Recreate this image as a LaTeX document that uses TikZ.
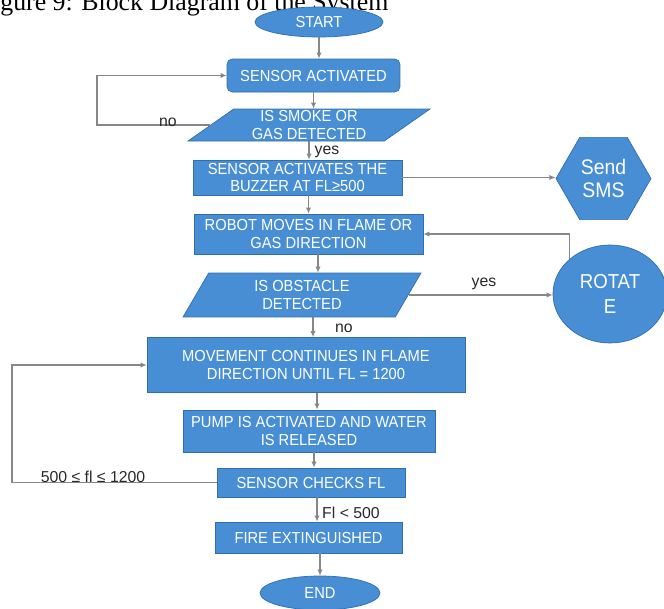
\documentclass[tikz,border=0pt]{standalone}
\usepackage{fontspec}
\setmainfont{Liberation Sans}
\newfontfamily\boxfont[FakeStretch=0.92]{Liberation Sans}
\newfontfamily\capfont{Liberation Serif}
\usetikzlibrary{arrows.meta, positioning, shapes, calc}

\definecolor{boxblue}{RGB}{72,142,212}
\definecolor{boxedge}{RGB}{48,110,176}
\definecolor{linegray}{RGB}{135,135,135}
\definecolor{labelgray}{RGB}{40,40,40}

\tikzset{
  blk/.style={draw=boxedge, fill=boxblue, text=white, align=center, inner sep=0pt,
    font=\boxfont\fontsize{9.1}{9.8}\selectfont},
  term/.style={blk, ellipse},
  proc/.style={blk, rectangle},
  ask/.style={blk, trapezium, trapezium stretches body},
  arr/.style={draw=linegray, line width=0.6pt, -{Latex[length=3.5pt,width=3pt]}},
  lbl/.style={text=labelgray, inner sep=0pt, font=\fontsize{9}{10}\selectfont},
}

\begin{document}
\begin{tikzpicture}[x=0.02cm, y=-0.02cm]
        \useasboundingbox (0,0) rectangle (664,609);

        % Caption (cut at the top of the scan)
        \node[anchor=base west, inner sep=0pt, font=\capfont\fontsize{14.7}{16}\selectfont] (caption) at (0,10) {gure 9: Block Diagram of the System};

        % Main column
        \node[term, minimum width=2.56cm, minimum height=0.6cm] (start) at (319,22) {START};
        \node[proc, rounded corners=3pt, minimum width=3.46cm, minimum height=0.66cm] (sensact) at (313.5,75.5) {SENSOR ACTIVATED};
        \node[ask, trapezium left angle=32, trapezium right angle=148, minimum width=4.84cm, minimum height=0.64cm] (smoke) at (309,125) {IS SMOKE OR\\GAS DETECTED};
        \node[proc, minimum width=4.18cm, minimum height=0.7cm] (buzzer) at (297.5,177.5) {SENSOR ACTIVATES THE\\BUZZER AT FL≥500};
        \node[proc, minimum width=4.58cm, minimum height=0.8cm] (robot) at (308.5,234) {ROBOT MOVES IN FLAME OR\\GAS DIRECTION};
        \node[ask, trapezium left angle=48, trapezium right angle=132, minimum width=4.76cm, minimum height=0.88cm] (obst) at (302,295) {IS OBSTACLE\\DETECTED};
        \node[proc, minimum width=6.36cm, minimum height=1.1cm] (move) at (306,365) {MOVEMENT CONTINUES IN FLAME\\DIRECTION UNTIL FL = 1200};
        \node[proc, minimum width=5.04cm, minimum height=0.84cm] (pump) at (309,431) {PUMP IS ACTIVATED AND WATER\\IS RELEASED};
        \node[proc, minimum width=3.76cm, minimum height=0.58cm] (check) at (311,482.5) {SENSOR CHECKS FL};
        \node[proc, minimum width=3.74cm, minimum height=0.62cm] (fire) at (308.5,537.5) {FIRE EXTINGUISHED};
        \node[term, minimum width=2.4cm, minimum height=0.68cm] (end) at (320,593) {END};

        % Side shapes
        \node[blk, regular polygon, regular polygon sides=6, minimum size=1.9cm,
              font=\boxfont\fontsize{12}{13.5}\selectfont] (sms) at (603.5,178.5) {Send\\SMS};
        \node[term, minimum width=2.28cm, minimum height=1.96cm,
              font=\boxfont\fontsize{11.5}{14}\selectfont] (rotate) at (610,294) {ROTAT\\E};

        % Bend points of the loops
        \coordinate (nobend) at (97,100);
        \coordinate (flbend) at (12,420);

        % Connections
        \draw[arr] (start.south) -- (start.south |- sensact.north);
        \draw[arr] (sensact.south) -- (sensact.south |- smoke.north);
        \draw[arr] (smoke.west) -- (smoke.west -| nobend) |- (sensact.west);
        \draw[arr] (smoke.south) -- (smoke.south |- buzzer.north);
        \draw[arr] (buzzer.east) -- (buzzer.east -| sms.west);
        \draw[arr] (robot.north |- buzzer.south) -- (robot.north);
        \draw[arr] ([xshift=0.19cm]robot.south) -- ([xshift=0.19cm]robot.south |- obst.north);
        \draw[arr] (obst.east) -- (obst.east -| rotate.west);
        \draw[arr] (rotate.north west) |- (robot.east);
        \draw[arr] ([xshift=0.14cm]move.north |- obst.south) -- ([xshift=0.14cm]move.north);
        \draw[arr] ([xshift=0.22cm]move.south) -- ([xshift=0.22cm]move.south |- pump.north);
        \draw[arr] ([xshift=0.1cm]pump.south) -- ([xshift=0.1cm]pump.south |- check.north);
        \draw[arr] (check.west) -- (check.west -| flbend) |- (move.west);
        \draw[arr] ([xshift=0.12cm]check.south) -- ([xshift=0.12cm]check.south |- fire.north);
        \draw[arr] (end.north |- fire.south) -- (end.north);

        % Labels
        \node[lbl] (nosmoke) at (168,122) {no};
        \node[lbl] (yessmoke) at (327,152) {yes};
        \node[lbl] (yesobst) at (484,284) {yes};
        \node[lbl] (noobst) at (344,328) {no};
        \node[lbl] (flrange) at (93,477) {500 ≤ fl ≤ 1200};
        \node[lbl] (fllow) at (351,513) {Fl < 500};
      \end{tikzpicture}
\end{document}
